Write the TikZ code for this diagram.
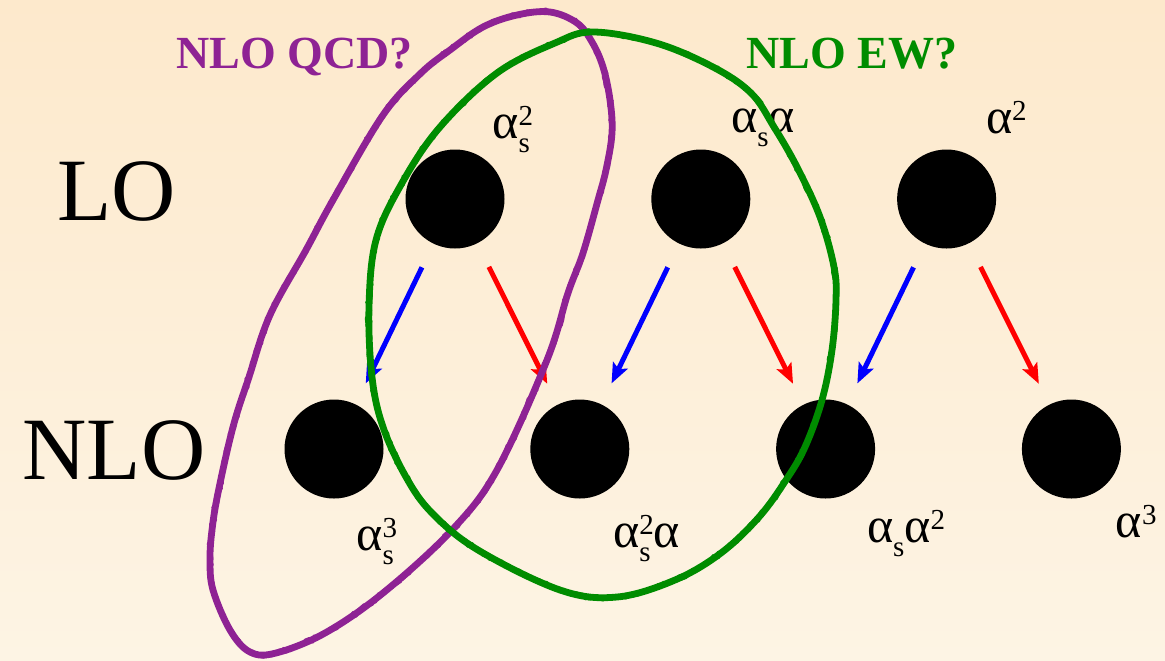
\documentclass[tikz,border=0pt]{standalone}
\usepackage{fontspec}
\setmainfont{Liberation Serif}
\usetikzlibrary{arrows.meta, positioning, calc, decorations.pathmorphing}
\definecolor{qcdcolor}{RGB}{142,34,148}
\definecolor{ewcolor}{RGB}{0,140,0}
\definecolor{bgtop}{RGB}{253,233,204}
\definecolor{bgbottom}{RGB}{253,244,228}
% small raised / lowered indices
\newcommand{\up}[1]{\raisebox{6.5pt}{\fontsize{14.5}{16}\selectfont #1}}
\newcommand{\dn}[1]{\raisebox{-7pt}{\fontsize{14.5}{16}\selectfont #1}}
\newcommand{\both}[2]{\rlap{\dn{#1}}\up{#2}}

\begin{document}
\begin{tikzpicture}[
    x=0.5pt, y=-0.5pt,
    node distance=73pt,
    dot/.style={circle, fill=black, inner sep=0pt, minimum size=49.5pt},
    order/.style={anchor=base west, inner sep=0pt, font=\fontsize{44.5}{50}\selectfont},
    coupling/.style={anchor=base west, inner sep=0pt, font=\fontsize{25}{28}\selectfont},
    title/.style={anchor=base west, inner sep=0pt, font=\fontsize{23}{27}\selectfont\bfseries},
    qcdarrow/.style={-{Stealth[length=10pt, width=8pt, inset=2pt]}, line width=2.5pt, blue, shorten <=13pt, shorten >=11.5pt},
    ewarrow/.style={-{Stealth[length=10pt, width=8pt, inset=2pt]}, line width=2.5pt, red, shorten <=13pt, shorten >=11.5pt},
    blob/.style={line width=3.4pt, line join=round, line cap=round,
        postaction={draw, decorate, line width=1.4pt,
            decoration={random steps, segment length=1.5pt, amplitude=1.3pt}}}
]
    % Background
    \shade[top color=bgtop, bottom color=bgbottom] (0,0) rectangle (1165,660);
    \useasboundingbox (0,0) rectangle (1165,660);
    \clip (0,0) rectangle (1165,660);

    % Row labels
    \node[order] (lo) at (57,220) {LO};
    \node[order] (nlo) at (22,479) {NLO};

    % Leading order
    \node[dot] (lo1) at (455,199) {};
    \node[dot, right=of lo1] (lo2) {};
    \node[dot, right=of lo2] (lo3) {};

    % Next-to-leading order
    \node[dot] (nlo1) at (334,449) {};
    \node[dot, right=of nlo1] (nlo2) {};
    \node[dot, right=of nlo2] (nlo3) {};
    \node[dot, right=of nlo3] (nlo4) {};

    % Couplings
    \node[coupling] (c1) at ($(lo1)+(37,-61)$) {α\both{s}{2}};
    \node[coupling] (c2) at ($(lo2)+(30,-67)$) {α\dn{s}α};
    \node[coupling] (c3) at ($(lo3)+(39,-66)$) {α\up{2}};
    \node[coupling] (c4) at ($(nlo1)+(22,101)$) {α\both{s}{3}};
    \node[coupling] (c5) at ($(nlo2)+(33,98)$) {α\both{s}{2}α};
    \node[coupling] (c6) at ($(nlo3)+(41,93)$) {α\dn{s}α\up{2}};
    \node[coupling] (c7) at ($(nlo4)+(44,88)$) {α\up{3}};

    % Corrections
    \draw[qcdarrow] (lo1) -- (nlo1);
    \draw[ewarrow] (lo1) -- (nlo2);
    \draw[qcdarrow] (lo2) -- (nlo2);
    \draw[ewarrow] (lo2) -- (nlo3);
    \draw[qcdarrow] (lo3) -- (nlo3);
    \draw[ewarrow] (lo3) -- (nlo4);

    % Questions
    \node[title, text=qcdcolor] (qcd) at (176,68) {NLO QCD?};
    \node[title, text=ewcolor] (ew) at (746,68) {NLO EW?};

    % Loops
    \draw[blob, qcdcolor] plot[smooth cycle, tension=0.6] coordinates {
        (450,50) (483,27) (517,15) (550,12) (577,23) (592,42) (603,67)
        (610,100) (612,133) (606,170) (598,200) (583,253) (568,293)
        (547,360) (497,470) (452,530) (383,593) (325,633) (276,653)
        (250,652) (230,630) (213,590) (210,560) (212,530) (218,493)
        (233,427) (249,377) (270,315) (306,250) (333,200) (383,115) (421,73)};
    \draw[blob, ewcolor] plot[smooth cycle, tension=0.6] coordinates {
        (593,32) (656,43) (713,67) (751,93) (774,127) (797,167) (820,217)
        (834,267) (836,300) (832,350) (822,400) (805,447) (786,480)
        (759,517) (721,553) (675,580) (617,597) (560,590) (478,550)
        (432,513) (406,477) (383,427) (372,377) (369,307) (376,240)
        (402,183) (440,127) (497,73) (555,43)};
\end{tikzpicture}
\end{document}
